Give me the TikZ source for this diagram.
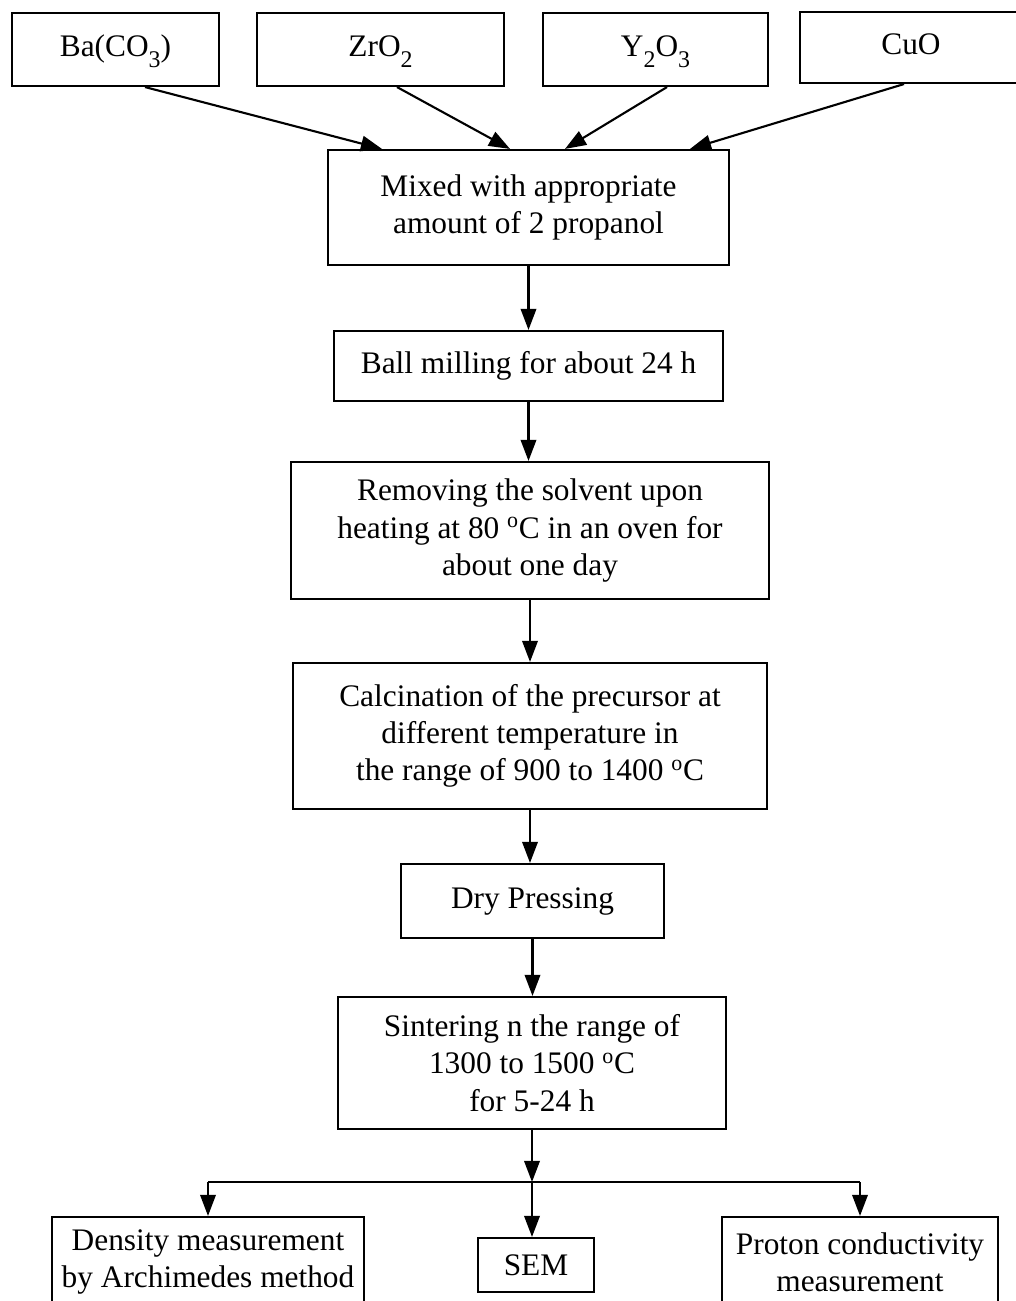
\documentclass[tikz,border=0pt]{standalone}
\usepackage{fontspec}
\setmainfont{Liberation Serif}
\usetikzlibrary{arrows.meta, calc}
\newcommand{\chemsub}[1]{\raisebox{-7.5pt}{\fontsize{17pt}{17pt}\selectfont #1}}

\begin{document}
\begin{tikzpicture}[x=0.025cm, y=-0.025cm,
    material/.style={rectangle, draw, line width=1.5pt, inner sep=0pt, minimum height=1.825cm, text height=15.6pt, text depth=5pt, align=center, font=\fontsize{22.3pt}{26.5pt}\selectfont},
    stepbox/.style={rectangle, draw, line width=1.5pt, inner sep=0pt, align=center, font=\fontsize{22.3pt}{26.5pt}\selectfont},
    arrow/.style={-{Triangle[length=15pt, width=11pt]}, line width=1.5pt},
    branch/.style={line width=1.5pt}]

    \useasboundingbox (0,0) rectangle (1016,1301);
    \clip (0,0) rectangle (1016,1301);

    % starting materials
    \node [material, minimum width=5.175cm] (ba) at (115.5,49.5) {Ba(CO\chemsub{3})};
    \node [material, minimum width=6.175cm] (zr) at (380.5,49.5) {ZrO\chemsub{2}};
    \node [material, minimum width=5.625cm] (yt) at (655.5,49.5) {Y\chemsub{2}O\chemsub{3}};
    \node [material, minimum width=5.55cm, minimum height=1.775cm] (cu) at (911,47.5) {CuO};

    % processing steps
    \node [stepbox, minimum width=10.025cm, minimum height=2.875cm] (mix) at (528.5,207.5) {Mixed with appropriate\\amount of 2 propanol};
    \node [stepbox, minimum width=9.725cm, minimum height=1.75cm] (ball) at (528.5,366) {Ball milling for about 24 h};
    \node [stepbox, minimum width=11.95cm, minimum height=3.425cm] (dry) at (530,530.5) {Removing the solvent upon\\heating at 80 \textsuperscript{o}C in an oven for\\about one day};
    \node [stepbox, minimum width=11.85cm, minimum height=3.65cm] (calc) at (530,736) {Calcination of the precursor at\\different temperature in\\the range of 900 to 1400 \textsuperscript{o}C};
    \node [stepbox, minimum width=6.575cm, minimum height=1.85cm] (press) at (532.5,901) {Dry Pressing};
    \node [stepbox, minimum width=9.7cm, minimum height=3.3cm] (sint) at (532,1063) {Sintering n the range of\\1300 to 1500 \textsuperscript{o}C\\for 5-24 h};

    % characterisation
    \node [stepbox, minimum width=7.8cm, minimum height=2.25cm] (dens) at (208,1262) {Density measurement\\by Archimedes method};
    \node [stepbox, minimum width=2.9cm, minimum height=1.35cm] (sem) at (536,1265) {SEM};
    \node [stepbox, minimum width=6.9cm, minimum height=2.25cm] (prot) at (860,1262) {Proton conductivity\\measurement};

    \coordinate (split) at (532,1182);
    \coordinate (splitl) at (208,1182);
    \coordinate (splitr) at (860,1182);

    % arrows into the mixing step
    \draw [arrow] ($(ba.south)+(29.5,0)$) -- ($(mix.north)+(-146.5,0)$);
    \draw [arrow] ($(zr.south)+(16.5,0)$) -- ($(mix.north)+(-18.5,0)$);
    \draw [arrow] ($(yt.south)+(11.5,0)$) -- ($(mix.north)+(36.5,0)$);
    \draw [arrow] ($(cu.south)+(-7,0)$) -- ($(mix.north)+(161.5,0)$);

    % main column
    \draw [arrow] (mix.south) -- (mix.south |- ball.north);
    \draw [arrow] (ball.south) -- (ball.south |- dry.north);
    \draw [arrow] (dry.south) -- (dry.south |- calc.north);
    \draw [arrow] (calc.south) -- (calc.south |- press.north);
    \draw [arrow] (press.south) -- (press.south |- sint.north);
    \draw [arrow] (sint.south) -- (split);

    % branches
    \draw [branch] (splitl) -- (splitr);
    \draw [arrow] (splitl) -- (dens.north);
    \draw [arrow] (split) -- (split |- sem.north);
    \draw [arrow] (splitr) -- (prot.north);

\end{tikzpicture}
\end{document}
